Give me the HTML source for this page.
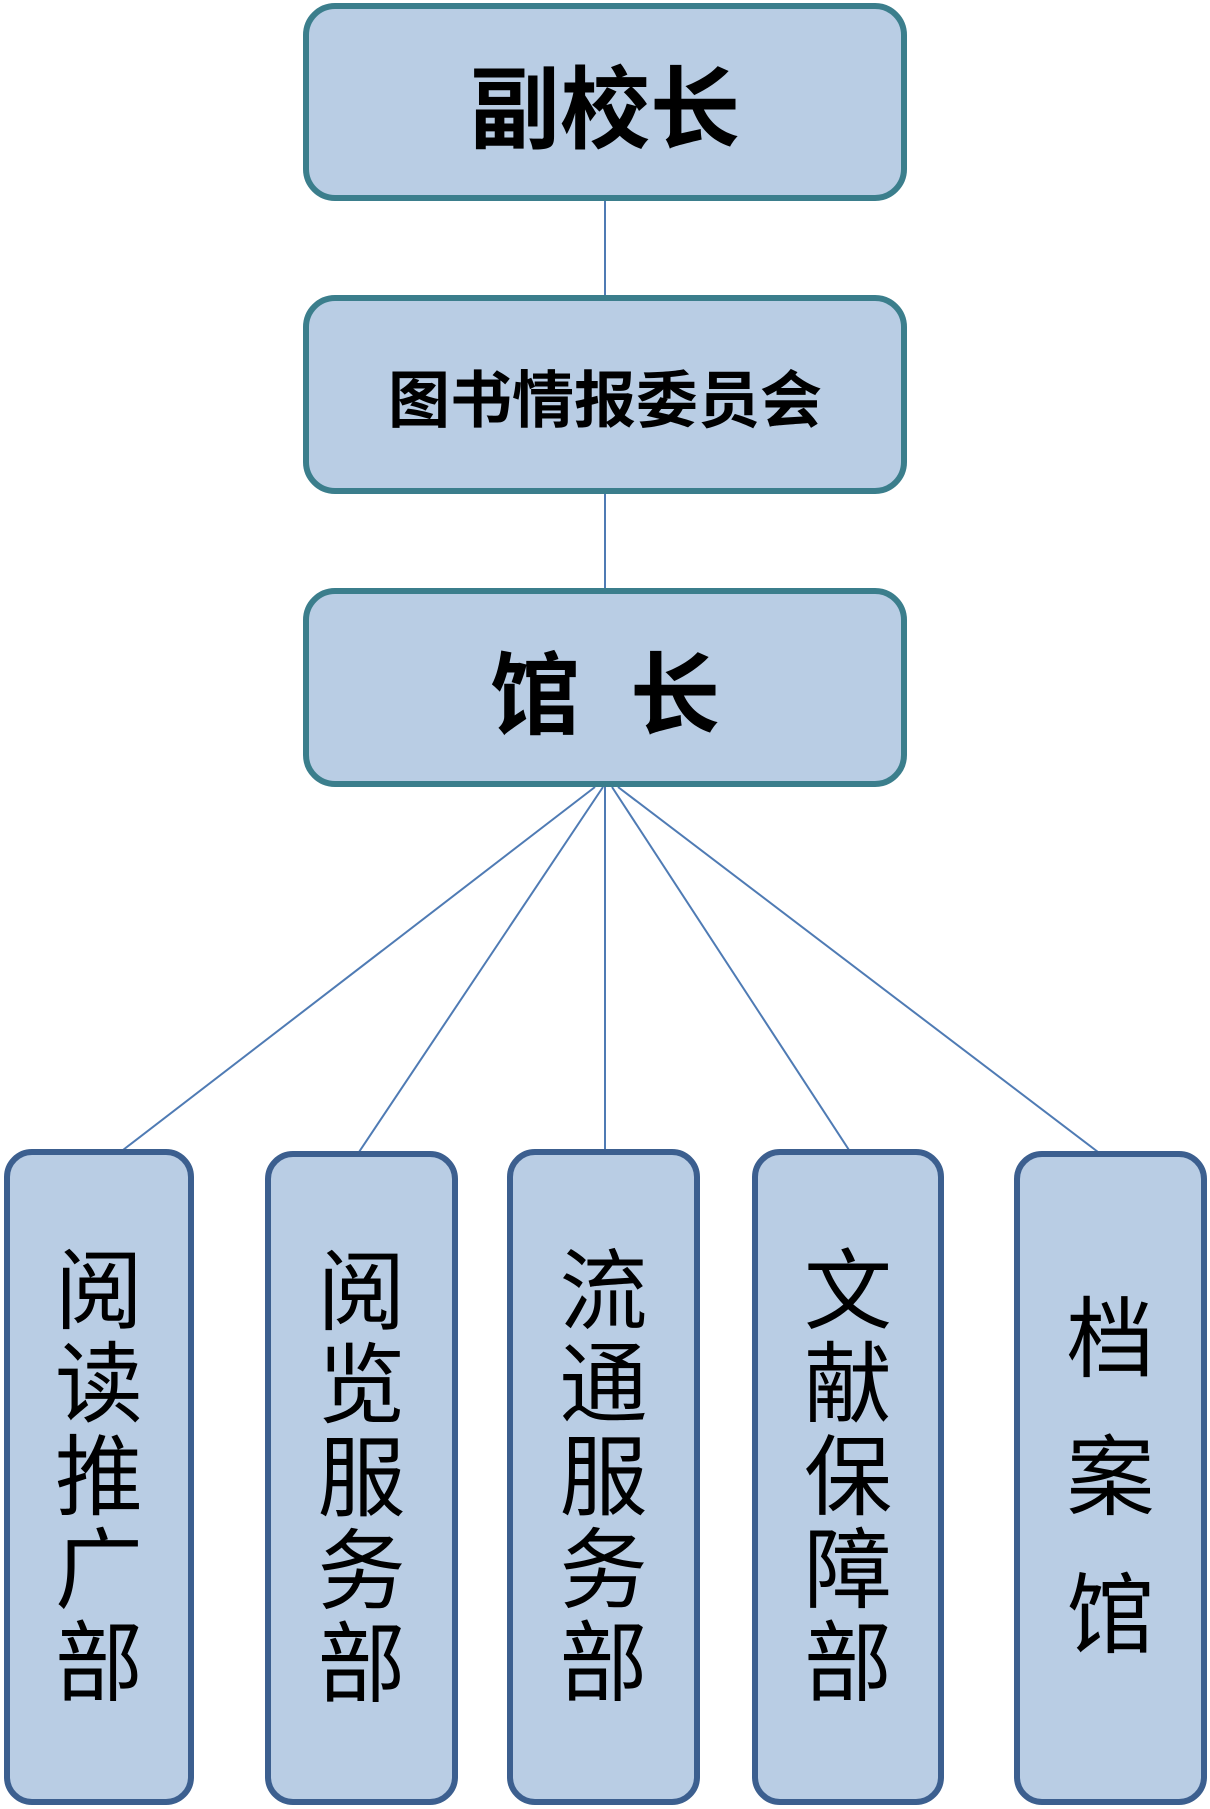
<!DOCTYPE html>
<html><head><meta charset="utf-8"><style>
body{margin:0;width:1210px;height:1809px;background:#fff;position:relative;overflow:hidden;font-family:"Liberation Sans","Noto Sans CJK SC",sans-serif}
.b{position:absolute;box-sizing:border-box;background:#b9cde4;border:6px solid #3b7e8c;border-radius:32px;display:flex;align-items:center;justify-content:center;font-weight:bold;color:#000}
.v{position:absolute;box-sizing:border-box;background:#b9cde4;border:6px solid #3c5f8f;border-radius:28px;display:flex;flex-direction:column;align-items:center;justify-content:center;color:#000;font-size:88px;line-height:93px}
svg{position:absolute;left:0;top:0}
</style></head><body>
<svg width="1210" height="1809"><g stroke="#4f7bb4" stroke-width="2">
<line x1="605" y1="199" x2="605" y2="297"/>
<line x1="605" y1="492" x2="605" y2="590"/>
<line x1="595" y1="787" x2="123" y2="1150"/>
<line x1="603" y1="787" x2="359" y2="1152"/>
<line x1="605" y1="787" x2="605" y2="1150"/>
<line x1="612" y1="787" x2="849" y2="1150"/>
<line x1="618" y1="787" x2="1098" y2="1152"/>
</g></svg>
<div class="b" style="left:303px;top:3px;width:604px;height:198px;font-size:90px">副校长</div>
<div class="b" style="left:303px;top:295px;width:604px;height:199px;font-size:62px">图书情报委员会</div>
<div class="b" style="left:303px;top:588px;width:604px;height:199px;font-size:90px">馆&nbsp;&nbsp;长</div>
<div class="v" style="left:4px;top:1149px;width:190px;height:656px"><div>阅</div><div>读</div><div>推</div><div>广</div><div>部</div></div>
<div class="v" style="left:265px;top:1151px;width:193px;height:654px"><div>阅</div><div>览</div><div>服</div><div>务</div><div>部</div></div>
<div class="v" style="left:507px;top:1149px;width:193px;height:656px"><div>流</div><div>通</div><div>服</div><div>务</div><div>部</div></div>
<div class="v" style="left:752px;top:1149px;width:192px;height:656px"><div>文</div><div>献</div><div>保</div><div>障</div><div>部</div></div>
<div class="v" style="left:1014px;top:1151px;width:193px;height:654px;line-height:138px"><div>档</div><div>案</div><div>馆</div></div>
</body></html>
